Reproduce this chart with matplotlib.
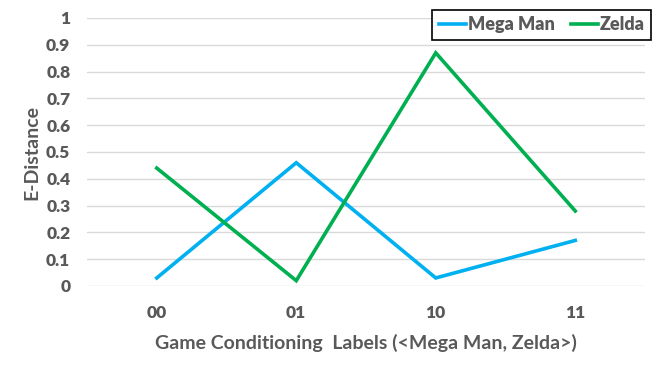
import matplotlib.pyplot as plt

labels = ['00', '01', '10', '11']
mega_man = [0.03, 0.46, 0.03, 0.17]
zelda = [0.44, 0.02, 0.87, 0.28]

plt.rcParams['font.family'] = ['Lato', 'DejaVu Sans']
text_color = '#595959'

fig = plt.figure(figsize=(6.59, 3.70), dpi=100)
ax = fig.add_axes([87 / 659, 1 - 286 / 370, (645 - 87) / 659, (286 - 18) / 370])

x = range(len(labels))
ax.plot(x, mega_man, color='#00B0F0', lw=2.6, label='Mega Man', solid_joinstyle='miter')
ax.plot(x, zelda, color='#00B050', lw=2.6, label='Zelda', solid_joinstyle='miter')

ax.set_xlim(-0.5, 3.5)
ax.set_ylim(0, 1)
ax.set_yticks([i / 10 for i in range(11)])
ax.set_yticklabels(['0'] + [f'{i / 10:.1f}' for i in range(1, 10)] + ['1'])
ax.set_xticks(list(x))
ax.set_xticklabels(labels)
ax.grid(axis='y', color='#D9D9D9', lw=1)
ax.set_axisbelow(True)
for s in ax.spines.values():
    s.set_visible(False)
ax.tick_params(length=0, labelsize=12.5, labelcolor=text_color, pad=12)
for t in ax.get_xticklabels() + ax.get_yticklabels():
    t.set_fontweight('heavy')
ax.tick_params(axis='x', pad=14)

ax.set_xlabel('Game Conditioning  Labels (<Mega Man, Zelda>)', fontsize=14,
              color=text_color, fontweight='bold', labelpad=9)
ax.set_ylabel('E-Distance', fontsize=14, color=text_color, fontweight='bold', labelpad=4)

leg = ax.legend(loc='upper right', ncol=2, bbox_to_anchor=(651 / 659, 1 - 10 / 370),
                bbox_transform=fig.transFigure, fancybox=False, edgecolor='black',
                framealpha=1, fontsize=13, handlelength=1.5, columnspacing=0.9,
                borderpad=0.35, handletextpad=0.1, borderaxespad=0)
leg.get_frame().set_linewidth(1.2)
for t in leg.get_texts():
    t.set_color(text_color)
    t.set_fontweight('heavy')

fig.savefig('out.png', dpi=100)
